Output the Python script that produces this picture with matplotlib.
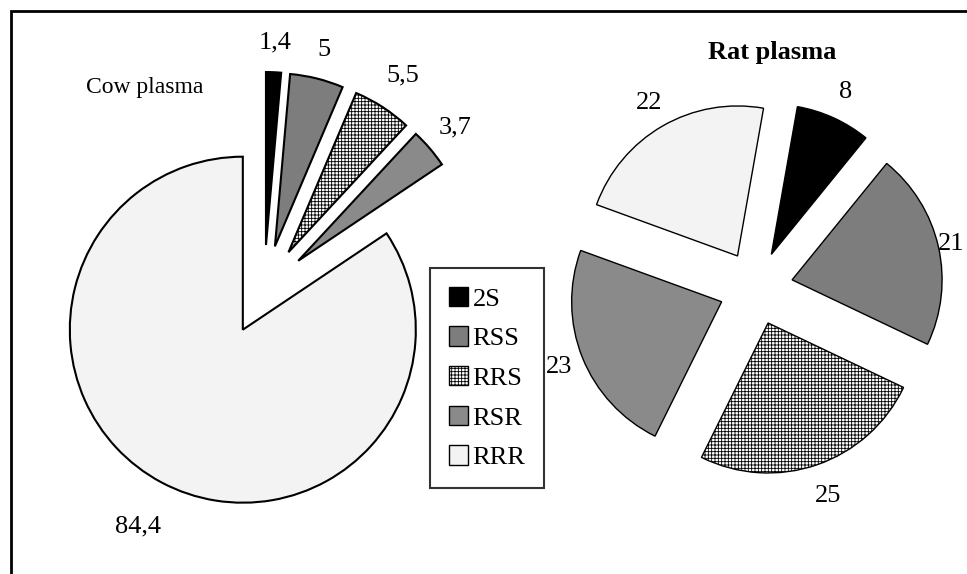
import math
import matplotlib.pyplot as plt
from matplotlib.patches import Patch

plt.rcParams['font.family'] = ['Liberation Serif', 'DejaVu Serif']
plt.rcParams['hatch.linewidth'] = 0.6

# isomer distribution (%) in the two plasmas
isomers = ["2S", "RSS", "RRS", "RSR", "RRR"]
cow_pct = [1.4, 5, 5.5, 3.7, 84.4]
rat_pct = [8, 21, 25, 23, 22]

fills = ["black", "#7d7d7d", "white", "#8a8a8a", "#f3f3f3"]
hatches = [None, None, "+++++", None, None]

W, H = 967, 574


def fmt(v):
    return f"{v:g}".replace(".", ",")


def draw_pie(ax, values, center, radius, explode, start, lw, label_dist):
    wedges, _ = ax.pie(values, colors=fills, startangle=start, counterclock=False,
                       center=center, radius=radius, explode=[explode] * len(values),
                       wedgeprops=dict(edgecolor="black", linewidth=lw))
    for w, h in zip(wedges, hatches):
        if h:
            w.set_hatch(h)
    # value labels just outside each slice
    for w, v, d in zip(wedges, values, label_dist):
        tm = math.radians((w.theta1 + w.theta2) / 2)
        cx, cy = w.center
        ax.text(cx + d * w.r * math.cos(tm), cy + d * w.r * math.sin(tm), fmt(v),
                ha="center", va="center", fontsize=19)
    return wedges


fig = plt.figure(figsize=(W / 100, H / 100), dpi=100)
ax = fig.add_axes([0, 0, 1, 1])

draw_pie(ax, cow_pct, (264, H - 290), 173, 45, 90, 1.5,
         [1.17, 1.17, 1.22, 1.19, 1.29])
draw_pie(ax, rat_pct, (756, H - 288), 150, 37, 80, 1.0,
         [1.19, 1.09, 1.22, 1.17, 1.18])

ax.text(145, H - 88, "Cow plasma", ha="center", va="center", fontsize=17)
ax.text(772, H - 52, "Rat plasma", ha="center", va="center", fontsize=19,
        fontweight="bold")

# outer frame (left and top edges only)
ax.plot([11, 11, W + 5], [-5, H - 11, H - 11], color="black", lw=2,
        solid_joinstyle="miter", clip_on=False)

handles = [Patch(facecolor=f, edgecolor="black", hatch=h, linewidth=1.0)
           for f, h in zip(fills, hatches)]
leg = ax.legend(handles, isomers, loc="center",
                bbox_to_anchor=(487 / W, 1 - 378 / H), fontsize=19,
                frameon=True, fancybox=False, edgecolor="black",
                handlelength=0.75, handleheight=0.75, handletextpad=0.15,
                labelspacing=0.6, borderpad=0.7, borderaxespad=0)
leg.get_frame().set_linewidth(1.5)

ax.set_xlim(0, W)
ax.set_ylim(0, H)
ax.set_aspect("equal")
ax.axis("off")

fig.savefig("out.png", dpi=100)
